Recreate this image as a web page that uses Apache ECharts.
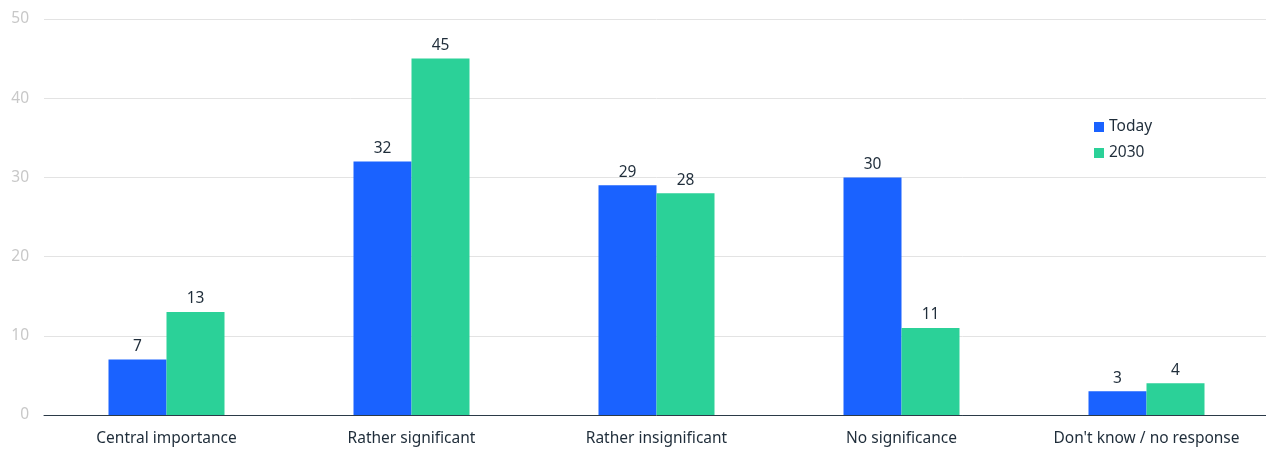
<!DOCTYPE html>
<html>
<head>
<meta charset="utf-8">
<script src="https://cdn.jsdelivr.net/npm/echarts@6/dist/echarts.min.js"></script>
<style>
  html, body { margin: 0; padding: 0; background: #ffffff; overflow: hidden; }
  #chart { width: 1270px; height: 449px; }
</style>
</head>
<body>
<div id="chart"></div>
<script>
// Survey answers, share of respondents (%)
const categories = ['Central importance', 'Rather significant', 'Rather insignificant', 'No significance', "Don't know / no response"];
const todayValues = [7, 32, 29, 30, 3];
const values2030 = [13, 45, 28, 11, 4];
const seriesNames = ['Today', '2030'];

const font = '"Noto Sans", "Open Sans", sans-serif';
const labelStyle = { show: true, position: 'top', color: '#1f2d3a', fontSize: 15.5, fontFamily: font, distance: 5 };

const chart = echarts.init(document.getElementById('chart'), null, { renderer: 'canvas' });
chart.setOption({
  animation: false,
  grid: { left: 44, right: 1, top: 19, bottom: 34, containLabel: false },
  legend: {
    orient: 'vertical',
    left: 1089, top: 114,
    itemWidth: 10, itemHeight: 10, itemGap: 10,
    icon: 'rect',
    textStyle: { color: '#1f2d3a', fontSize: 15.5, fontFamily: font },
    data: seriesNames
  },
  xAxis: {
    type: 'category',
    data: categories,
    axisLine: { lineStyle: { color: '#2b3a48', width: 1 } },
    axisTick: { show: false },
    axisLabel: { color: '#1f2d3a', fontSize: 15.5, fontFamily: font, margin: 16 }
  },
  yAxis: {
    type: 'value',
    min: 0, max: 50, interval: 10,
    axisLine: { show: false },
    axisTick: { show: false },
    splitLine: { lineStyle: { color: '#e3e3e3', width: 1 } },
    axisLabel: { color: '#c8c8c8', fontSize: 15.5, fontFamily: font, margin: 15 }
  },
  series: [
    {
      name: seriesNames[0], type: 'bar', data: todayValues,
      barWidth: 58, barGap: '0%',
      itemStyle: { color: '#1a62ff' },
      label: labelStyle
    },
    {
      name: seriesNames[1], type: 'bar', data: values2030,
      barWidth: 58, barGap: '0%',
      itemStyle: { color: '#2bd198' },
      label: labelStyle
    }
  ]
});
</script>
</body>
</html>
